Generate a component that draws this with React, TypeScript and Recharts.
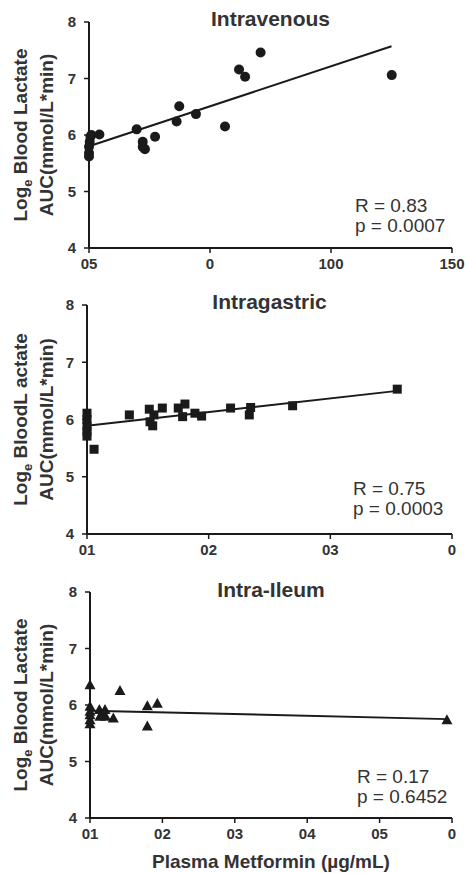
import { ScatterChart, Scatter, XAxis, YAxis } from 'recharts'

const FONT = '"Liberation Sans", Arial, Helvetica, sans-serif'
const INK = '#1a1a1a'
const TEXT = '#333333'

// y axis is shared by all three panels
const yTicks = [4, 5, 6, 7, 8]

// Intravenous
const ivDose = [0, 0, 0, 0.3, 0.6, 1.0, 4.3, 19.7, 22.2, 22.2, 23.1, 27.3, 36.2, 37.3, 44.2, 56.2, 62.0, 64.5, 70.9, 125.1]
const ivLactate = [5.62, 5.68, 5.79, 5.88, 5.97, 6.0, 6.01, 6.1, 5.88, 5.79, 5.75, 5.97, 6.24, 6.51, 6.37, 6.15, 7.16, 7.03, 7.46, 7.06]
const ivFitX = [0, 125]
const ivFitY = [5.8, 7.57]
const ivTicks = [0, 50, 100, 150]
const ivTickLabels = ['05', '0', '100', '150']

// Intragastric
const igDose = [0, 0, 0, 0, 0, 0.58, 3.48, 5.12, 5.18, 5.4, 5.5, 6.19, 7.5, 8.05, 7.86, 8.87, 9.42, 11.8, 13.45, 13.34, 16.9, 25.5]
const igLactate = [6.11, 6.0, 5.88, 5.79, 5.71, 5.48, 6.08, 6.18, 5.96, 5.89, 6.08, 6.2, 6.2, 6.27, 6.05, 6.11, 6.06, 6.2, 6.21, 6.08, 6.24, 6.53]
const igFitX = [0, 25.5]
const igFitY = [5.89, 6.5]
const igTicks = [0, 10, 20, 30]
const igTickLabels = ['01', '02', '03', '0']

// Intra-ileum
const ilDose = [0, 0, 0, 0, 0, 0, 1.29, 1.61, 1.38, 2.07, 2.16, 3.22, 4.14, 7.92, 7.92, 9.3, 49.3]
const ilLactate = [6.35, 5.97, 5.88, 5.73, 5.66, 5.82, 5.91, 5.84, 5.79, 5.91, 5.79, 5.76, 6.25, 5.98, 5.62, 6.02, 5.73]
const ilFitX = [0, 49.3]
const ilFitY = [5.9, 5.75]
const ilTicks = [0, 10, 20, 30, 40, 50]
const ilTickLabels = ['01', '02', '03', '04', '05', '0']

const zip = (xs: number[], ys: number[]) => xs.map((x, i) => ({ x, y: ys[i] }))

const Dot = (p: any) => <circle cx={p.cx} cy={p.cy} r={5} fill={INK} />
const Square = (p: any) => <rect x={p.cx - 4.5} y={p.cy - 4.5} width={9} height={9} fill={INK} />
const Tri = (p: any) => (
  <polygon points={`${p.cx},${p.cy - 6} ${p.cx + 5.5},${p.cy + 4} ${p.cx - 5.5},${p.cy + 4}`} fill={INK} />
)
const NoDot = () => <g />

interface PanelProps {
  top: number
  height: number
  margin: { top: number; right: number; bottom: number; left: number }
  title: string
  titleY: number
  xMax: number
  xTicks: number[]
  xLabels: string[]
  points: { x: number; y: number }[]
  fit: { x: number; y: number }[]
  shape: (p: any) => any
  r: string
  p: string
  statX: number
  statY: number
  ylabelTop: string
  xTitle?: string
}

function Panel(props: PanelProps) {
  const { top, height, margin } = props
  const plotMid = margin.top + (height - margin.top - margin.bottom - 30) / 2
  const plotLeft = margin.left + 40
  const titleX = (plotLeft + 465 - margin.right) / 2
  return (
    <div style={{ position: 'absolute', left: 0, top, width: 465, height }}>
      <ScatterChart width={465} height={height} margin={margin}>
        <XAxis
          type="number"
          dataKey="x"
          domain={[0, props.xMax]}
          ticks={props.xTicks}
          interval={0}
          tickFormatter={(_v: number, i: number) => props.xLabels[i]}
          axisLine={{ stroke: INK, strokeWidth: 2 }}
          tickLine={{ stroke: INK, strokeWidth: 1.5 }}
          tickSize={5}
          tickMargin={5}
          height={30}
          tick={{ fill: TEXT, fontSize: 15, fontWeight: 'bold', fontFamily: FONT }}
        />
        <YAxis
          type="number"
          dataKey="y"
          domain={[4, 8]}
          ticks={yTicks}
          interval={0}
          axisLine={{ stroke: INK, strokeWidth: 2 }}
          tickLine={{ stroke: INK, strokeWidth: 1.5 }}
          tickSize={5}
          tickMargin={8}
          width={40}
          tick={{ fill: TEXT, fontSize: 15, fontWeight: 'bold', fontFamily: FONT }}
        />
        <Scatter data={props.fit} line={{ stroke: INK, strokeWidth: 2 }} shape={NoDot} isAnimationActive={false} />
        <Scatter data={props.points} shape={props.shape} isAnimationActive={false} />
      </ScatterChart>
      <svg width={465} height={height} style={{ position: 'absolute', left: 0, top: 0, pointerEvents: 'none' }}>
        <g fontFamily={FONT} fill={TEXT}>
          <text x={titleX} y={props.titleY} textAnchor="middle" fontSize={21} fontWeight="bold">{props.title}</text>
          <text x={props.statX} y={props.statY} fontSize={19}>{props.r}</text>
          <text x={props.statX} y={props.statY + 20} fontSize={19}>{props.p}</text>
          <text transform={`translate(27, ${plotMid}) rotate(-90)`} textAnchor="middle" fontSize={19} fontWeight="bold">
            Log<tspan fontSize={13} dy={5}>e</tspan><tspan dy={-5}>{' ' + props.ylabelTop}</tspan>
          </text>
          <text transform={`translate(53, ${plotMid}) rotate(-90)`} textAnchor="middle" fontSize={19} fontWeight="bold">
            AUC(mmol/L*min)
          </text>
          {props.xTitle && (
            <text x={titleX} y={height - 5} textAnchor="middle" fontSize={19} fontWeight="bold">{props.xTitle}</text>
          )}
        </g>
      </svg>
    </div>
  )
}

export default function App() {
  return (
    <div style={{ position: 'absolute', left: 0, top: 0, width: 465, height: 873, background: '#fff', fontFamily: FONT }}>
      <Panel
        top={0}
        height={280}
        margin={{ top: 22, right: 13, bottom: 2, left: 49 }}
        title="Intravenous"
        titleY={26}
        xMax={150}
        xTicks={ivTicks}
        xLabels={ivTickLabels}
        points={zip(ivDose, ivLactate)}
        fit={zip(ivFitX, ivFitY)}
        shape={Dot}
        r="R = 0.83"
        p="p = 0.0007"
        statX={355}
        statY={212}
        ylabelTop="Blood Lactate"
      />
      <Panel
        top={280}
        height={290}
        margin={{ top: 25, right: 13, bottom: 6, left: 47 }}
        title="Intragastric"
        titleY={29}
        xMax={30}
        xTicks={igTicks}
        xLabels={igTickLabels}
        points={zip(igDose, igLactate)}
        fit={zip(igFitX, igFitY)}
        shape={Square}
        r="R = 0.75"
        p="p = 0.0003"
        statX={353}
        statY={215}
        ylabelTop="BloodL actate"
      />
      <Panel
        top={570}
        height={303}
        margin={{ top: 22, right: 13, bottom: 25, left: 50 }}
        title="Intra-Ileum"
        titleY={27}
        xMax={50}
        xTicks={ilTicks}
        xLabels={ilTickLabels}
        points={zip(ilDose, ilLactate)}
        fit={zip(ilFitX, ilFitY)}
        shape={Tri}
        r="R = 0.17"
        p="p = 0.6452"
        statX={357}
        statY={213}
        ylabelTop="Blood Lactate"
        xTitle="Plasma Metformin (µg/mL)"
      />
    </div>
  )
}
